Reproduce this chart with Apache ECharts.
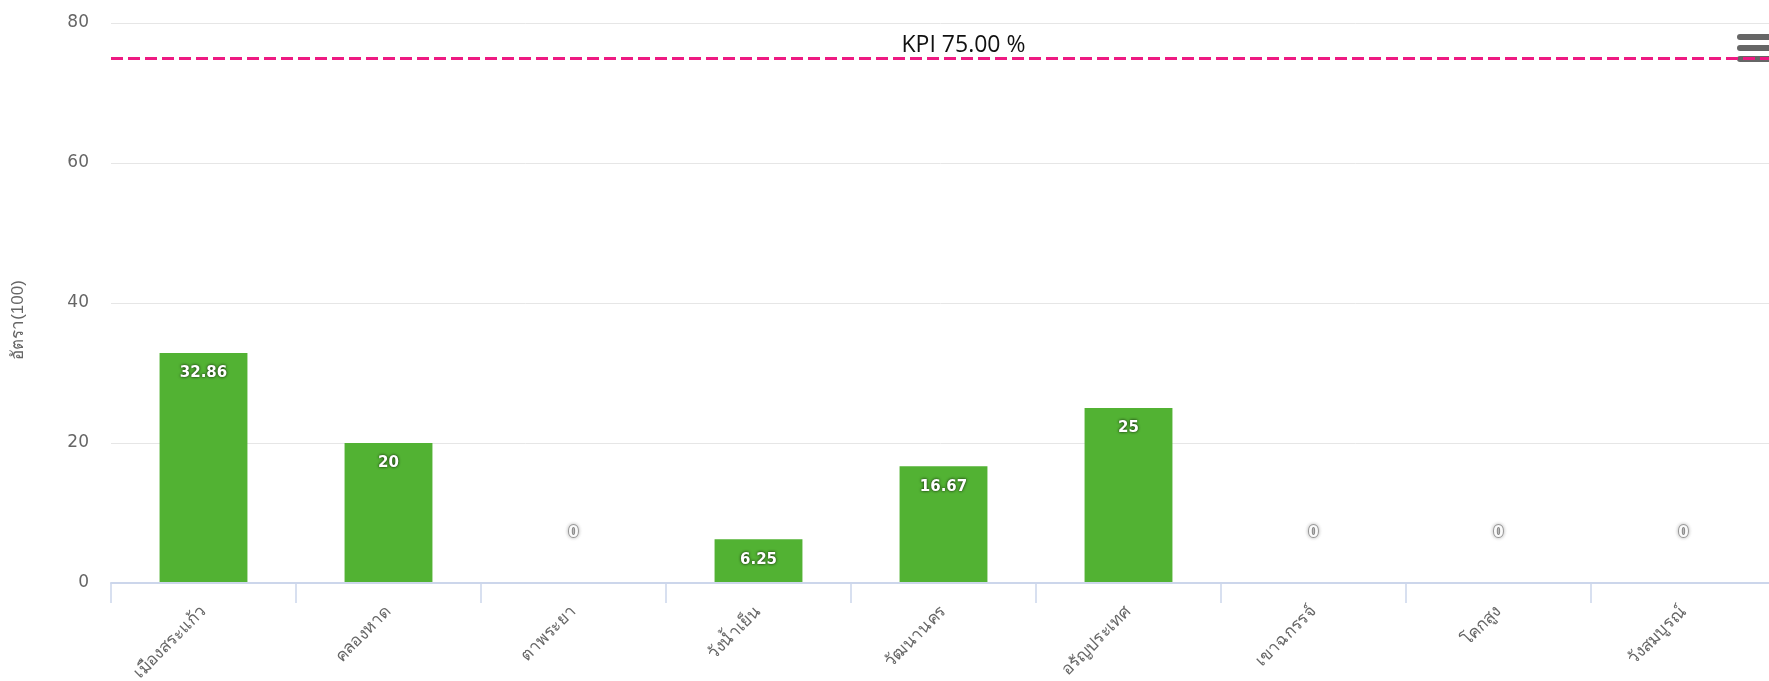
<!DOCTYPE html>
<html>
<head>
<meta charset="utf-8">
<script src="https://cdn.jsdelivr.net/npm/echarts@6/dist/echarts.min.js"></script>
<style>
  html, body { margin: 0; padding: 0; background: #fff; }
  #chart { width: 1769px; height: 681px; }
</style>
</head>
<body>
<div id="chart"></div>
<script>
const districts = ["เมืองสระแก้ว", "คลองหาด", "ตาพระยา", "วังน้ำเย็น", "วัฒนานคร", "อรัญประเทศ", "เขาฉกรรจ์", "โคกสูง", "วังสมบูรณ์"];
const rates = [32.86, 20, 0, 6.25, 16.67, 25, 0, 0, 0];
const kpi = 75;
const yTicks = { min: 0, max: 80, interval: 20 };

const chart = echarts.init(document.getElementById("chart"));

const barLabel = {
  show: true,
  position: "insideTop",
  distance: 13,
  color: "#fff",
  fontFamily: "DejaVu Sans",
  fontWeight: "bold",
  fontSize: 15,
  textShadowColor: "rgba(0,0,0,0.9)",
  textShadowBlur: 3,
};

// zero values get their label floating above the axis, like the original
const barData = rates.map((v) => {
  if (v !== 0) return v;
  return {
    value: v,
    label: {
      show: true,
      position: "top",
      distance: 42,
      color: "#fafafa",
      fontFamily: "DejaVu Sans",
      fontWeight: "bold",
      fontSize: 15,
      textBorderColor: "rgba(0,0,0,0.3)",
      textBorderWidth: 2,
      textShadowColor: "rgba(0,0,0,0.4)",
      textShadowBlur: 4,
    },
  };
});

const option = {
  animation: false,
  grid: { left: 111, top: 23, width: 1665, height: 560, outerBoundsMode: "none", containLabel: false },
  xAxis: {
    type: "category",
    data: districts,
    axisLine: { show: true, lineStyle: { color: "#ccd6eb", width: 2 } },
    axisTick: { show: true, length: 20, lineStyle: { color: "#ccd6eb", width: 1.5 } },
    axisLabel: {
      rotate: 45,
      margin: 26,
      color: "#666",
      fontSize: 17,
      interval: 0,
    },
    z: 5,
  },
  yAxis: {
    type: "value",
    min: yTicks.min,
    max: yTicks.max,
    interval: yTicks.interval,
    name: "อัตรา(100)",
    nameLocation: "middle",
    nameGap: 84,
    nameTextStyle: { color: "#666", fontSize: 17, padding: [0, 34, 0, 0] },
    axisLabel: { color: "#666", fontSize: 17, fontFamily: "DejaVu Sans", margin: 22 },
    splitLine: { lineStyle: { color: "#e6e6e6" } },
  },
  series: [
    {
      type: "bar",
      data: barData,
      barWidth: "47.5%",
      itemStyle: { color: "#52b233" },
      label: barLabel,
      markLine: {
        symbol: "none",
        silent: true,
        lineStyle: { color: "#ee1a82", type: [12, 5], width: 3 },
        label: {
          position: "middle",
          formatter: () => "KPI " + kpi.toFixed(2) + " %",
          color: "#111",
          fontFamily: "Open Sans",
          fontSize: 23,
          distance: 1,
          offset: [20, 0],
        },
        data: [{ yAxis: kpi }],
      },
    },
  ],
  graphic: [
    {
      type: "group",
      left: 1729,
      top: 30,
      children: [
        { type: "rect", shape: { x: 0, y: 0, width: 44, height: 36 }, style: { fill: "#fff" } },
        { type: "rect", shape: { x: 8, y: 4, width: 34, height: 6, r: 3 }, style: { fill: "#666" } },
        { type: "rect", shape: { x: 8, y: 15, width: 34, height: 6, r: 3 }, style: { fill: "#666" } },
        { type: "rect", shape: { x: 8, y: 26, width: 34, height: 6, r: 3 }, style: { fill: "#666" } },
      ],
    },
  ],
};

chart.setOption(option);
</script>
</body>
</html>
